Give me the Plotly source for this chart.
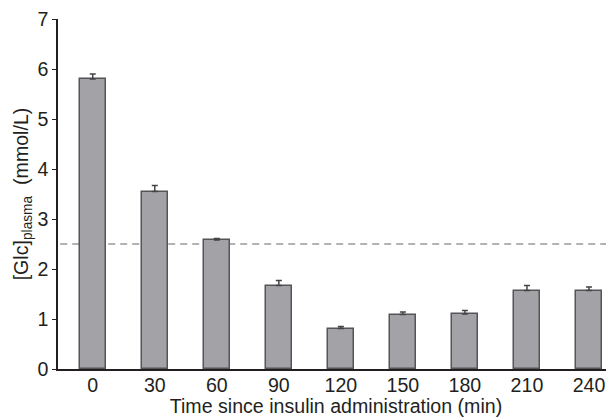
import plotly.graph_objects as go

times = [0, 30, 60, 90, 120, 150, 180, 210, 240]
glc_mean = [5.80, 3.55, 2.58, 1.67, 0.81, 1.09, 1.10, 1.57, 1.57]
glc_err = [0.10, 0.12, 0.03, 0.10, 0.04, 0.05, 0.07, 0.10, 0.07]
threshold = 2.5
tick_labels = [str(t) for t in times]

font_family = "Liberation Sans, Arial, sans-serif"
text_color = "#231f20"
fs = 19.6

fig = go.Figure()
fig.add_trace(go.Bar(
    x=times, y=glc_mean, width=12.6,
    marker=dict(color="#a3a3a7", line=dict(color="#555558", width=1.5)),
    error_y=dict(type="data", array=glc_err, visible=True, symmetric=False,
                 arrayminus=[0] * len(glc_err),
                 color="#444446", thickness=1.5, width=3),
    showlegend=False,
))

fig.add_shape(type="line", xref="paper", yref="y", x0=0.004, x1=1,
              y0=threshold, y1=threshold,
              line=dict(color="#b2b2b2", width=2, dash="7px,5px"), layer="below")

fig.update_layout(
    width=606, height=409,
    margin=dict(l=50, r=0, t=11, b=48),
    paper_bgcolor="white", plot_bgcolor="white",
    font=dict(family=font_family, size=fs, color=text_color),
    bargap=0,
    xaxis=dict(range=[-16.8, 252.1], tickvals=times, ticktext=tick_labels,
               showline=True, linecolor="#231f20", linewidth=1.5,
               ticks="", showgrid=False, zeroline=False,
               tickfont=dict(size=fs), ticklabeloverflow="allow",
               ticklabelstandoff=-2,
               title=dict(text="Time since insulin administration (min)",
                          font=dict(size=fs), standoff=0)),
    yaxis=dict(range=[0, 7], tickvals=list(range(8)),
               showline=True, linecolor="#231f20", linewidth=1.5,
               ticks="outside", ticklen=4, tickwidth=1.2, tickcolor="#231f20",
               showgrid=False, zeroline=False,
               tickfont=dict(size=fs), ticklabeloverflow="allow",
               title=dict(text="[Glc]<sub>plasma</sub>  (mmol/L)",
                          font=dict(size=fs), standoff=4)),
)

fig.write_html("out.html")
